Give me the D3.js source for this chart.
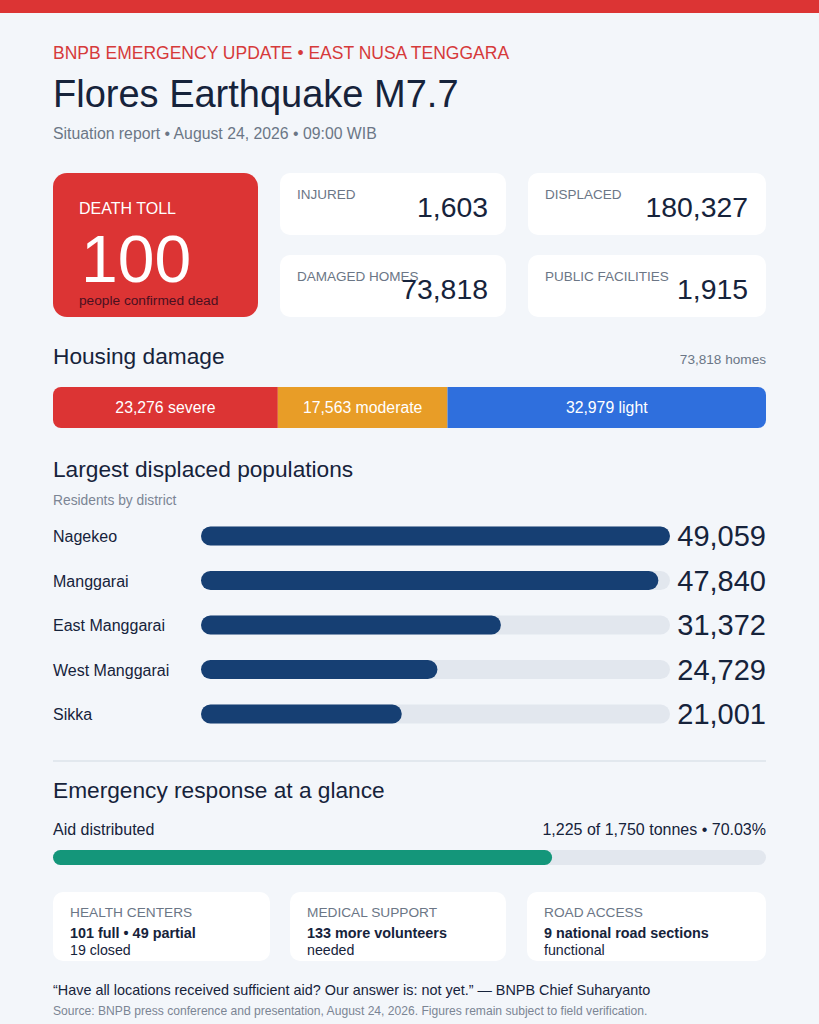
<!DOCTYPE html>
<html lang="en">
<head>
<meta charset="UTF-8">
<title>Flores Earthquake M7.7</title>
<style>
    body { margin: 0; background: #f3f6fa; }
    svg { display: block; font-family: "Liberation Sans", Arial, Helvetica, sans-serif; }
</style>
</head>
<body>
<script src="https://cdn.jsdelivr.net/npm/d3@7"></script>
<script>
    // données
    const deathToll = 100
    const statLabels = ['INJURED', 'DISPLACED', 'DAMAGED HOMES', 'PUBLIC FACILITIES']
    const statValues = [1603, 180327, 73818, 1915]

    const damageLabels = ['severe', 'moderate', 'light']
    const damageValues = [23276, 17563, 32979]
    const damageColors = ['#dc3434', '#e89d27', '#2f6fdd']

    const districts = ['Nagekeo', 'Manggarai', 'East Manggarai', 'West Manggarai', 'Sikka']
    const displaced = [49059, 47840, 31372, 24729, 21001]

    const aidDelivered = 1225
    const aidTotal = 1750
    const aidPercent = '70.03%'   // tel qu'affiché dans le rapport

    const responseLabels = ['HEALTH CENTERS', 'MEDICAL SUPPORT', 'ROAD ACCESS']
    const responseMain = ['101 full • 49 partial', '133 more volunteers', '9 national road sections']
    const responseSub = ['19 closed', 'needed', 'functional']

    const fmt = d3.format(',')
    const W = 819, H = 1024
    const left = 53, right = 766
    const ink = '#16233b', gris = '#6b7686'

    const svg = d3.select('body').append('svg')
        .attr('width', W)
        .attr('height', H)

    svg.append('rect').attr('width', W).attr('height', H).attr('fill', '#f3f6fa')
    svg.append('rect').attr('width', W).attr('height', 13).attr('fill', '#dc3434')

    // en-tête
    svg.append('text').attr('x', left).attr('y', 59)
        .attr('font-size', 17.5).attr('fill', '#d63a3a')
        .text('BNPB EMERGENCY UPDATE • EAST NUSA TENGGARA')
    svg.append('text').attr('x', left).attr('y', 107)
        .attr('font-size', 38).attr('fill', ink)
        .text('Flores Earthquake M7.7')
    svg.append('text').attr('x', left).attr('y', 139)
        .attr('font-size', 15.8).attr('fill', gris)
        .text('Situation report • August 24, 2026 • 09:00 WIB')

    // carte bilan
    svg.append('rect').attr('x', left).attr('y', 173).attr('width', 205).attr('height', 144)
        .attr('rx', 14).attr('fill', '#dc3434')
    svg.append('text').attr('x', 79).attr('y', 214).attr('font-size', 16).attr('fill', '#ffffff').text('DEATH TOLL')
    svg.append('text').attr('x', 81).attr('y', 282).attr('font-size', 66).attr('fill', '#ffffff').text(deathToll)
    svg.append('text').attr('x', 79).attr('y', 305).attr('font-size', 13.7).attr('fill', '#4a1020').text('people confirmed dead')

    // cartes de chiffres
    const cardX = [280, 528], cardW = [226, 238], cardY = [173, 255]
    const stats = svg.append('g').selectAll('g')
        .data(statLabels)
        .enter()
        .append('g')
        .attr('transform', (d, i) => `translate(${cardX[i % 2]},${cardY[Math.floor(i / 2)]})`)
    stats.append('rect')
        .attr('width', (d, i) => cardW[i % 2]).attr('height', 62)
        .attr('rx', 10).attr('fill', '#ffffff')
    stats.append('text').attr('x', 17).attr('y', 26)
        .attr('font-size', 13.5).attr('fill', gris)
        .text(d => d)
    stats.append('text')
        .attr('x', (d, i) => cardW[i % 2] - 18).attr('y', 44)
        .attr('text-anchor', 'end').attr('font-size', 28.4).attr('fill', ink)
        .text((d, i) => fmt(statValues[i]))

    // dommages logements
    const totalHomes = d3.sum(damageValues)
    svg.append('text').attr('x', left).attr('y', 364).attr('font-size', 22.7).attr('fill', ink).text('Housing damage')
    svg.append('text').attr('x', right).attr('y', 364).attr('text-anchor', 'end')
        .attr('font-size', 13.6).attr('fill', gris).text(fmt(totalHomes) + ' homes')

    const echelleDommages = d3.scaleLinear().domain([0, totalHomes]).range([left, right])
    const cumul = damageValues.map((d, i) => d3.sum(damageValues.slice(0, i)))
    svg.append('clipPath').attr('id', 'clipStack')
        .append('rect').attr('x', left).attr('y', 387).attr('width', right - left).attr('height', 41).attr('rx', 8)
    const stack = svg.append('g').attr('clip-path', 'url(#clipStack)')
    stack.selectAll('rect')
        .data(damageValues)
        .enter()
        .append('rect')
        .attr('x', (d, i) => echelleDommages(cumul[i]))
        .attr('y', 387)
        .attr('width', (d, i) => echelleDommages(cumul[i] + d) - echelleDommages(cumul[i]))
        .attr('height', 41)
        .attr('fill', (d, i) => damageColors[i])
    svg.append('g').selectAll('text')
        .data(damageValues)
        .enter()
        .append('text')
        .attr('x', (d, i) => (echelleDommages(cumul[i]) + echelleDommages(cumul[i] + d)) / 2)
        .attr('y', 413)
        .attr('text-anchor', 'middle').attr('font-size', 15.8).attr('fill', '#ffffff')
        .text((d, i) => fmt(d) + ' ' + damageLabels[i])

    // populations déplacées
    svg.append('text').attr('x', left).attr('y', 477).attr('font-size', 22.7).attr('fill', ink).text('Largest displaced populations')
    svg.append('text').attr('x', left).attr('y', 505).attr('font-size', 13.8).attr('fill', '#7b8594').text('Residents by district')

    const echelleY = d3.scalePoint().domain(districts).range([536, 714])
    const echelleX = d3.scaleLinear().domain([0, d3.max(displaced)]).range([201, 670])
    const barH = 19

    const rows = svg.append('g').selectAll('g')
        .data(districts)
        .enter()
        .append('g')
        .attr('transform', d => `translate(0,${echelleY(d)})`)
    rows.append('text').attr('x', left).attr('y', 6)
        .attr('font-size', 16).attr('fill', ink).text(d => d)
    rows.append('rect')
        .attr('x', echelleX(0)).attr('y', -barH / 2)
        .attr('width', echelleX.range()[1] - echelleX(0)).attr('height', barH)
        .attr('rx', barH / 2).attr('fill', '#e2e7ee')
    rows.append('rect')
        .attr('x', echelleX(0)).attr('y', -barH / 2)
        .attr('width', (d, i) => echelleX(displaced[i]) - echelleX(0)).attr('height', barH)
        .attr('rx', barH / 2).attr('fill', '#163f73')
    rows.append('text').attr('x', right).attr('y', 10)
        .attr('text-anchor', 'end').attr('font-size', 29).attr('fill', ink)
        .text((d, i) => fmt(displaced[i]))

    // séparateur
    svg.append('line').attr('x1', left).attr('x2', right).attr('y1', 761).attr('y2', 761)
        .attr('stroke', '#dde3ea').attr('stroke-width', 1.5)

    // réponse d'urgence
    svg.append('text').attr('x', left).attr('y', 798).attr('font-size', 22.7).attr('fill', ink).text('Emergency response at a glance')
    svg.append('text').attr('x', left).attr('y', 835).attr('font-size', 16).attr('fill', ink).text('Aid distributed')
    svg.append('text').attr('x', right).attr('y', 835).attr('text-anchor', 'end')
        .attr('font-size', 16).attr('fill', ink)
        .text(`${fmt(aidDelivered)} of ${fmt(aidTotal)} tonnes • ${aidPercent}`)

    const echelleAide = d3.scaleLinear().domain([0, aidTotal]).range([left, right])
    svg.append('rect').attr('x', left).attr('y', 850).attr('width', right - left).attr('height', 15)
        .attr('rx', 7.5).attr('fill', '#e2e7ee')
    svg.append('rect').attr('x', left).attr('y', 850)
        .attr('width', echelleAide(aidDelivered) - left).attr('height', 15)
        .attr('rx', 7.5).attr('fill', '#14967a')

    // petites cartes
    const smallX = [53, 290, 527], smallW = [217, 216, 239]
    const small = svg.append('g').selectAll('g')
        .data(responseLabels)
        .enter()
        .append('g')
        .attr('transform', (d, i) => `translate(${smallX[i]},892)`)
    small.append('rect').attr('width', (d, i) => smallW[i]).attr('height', 69)
        .attr('rx', 10).attr('fill', '#ffffff')
    small.append('text').attr('x', 17).attr('y', 25)
        .attr('font-size', 13.7).attr('fill', gris).text(d => d)
    small.append('text').attr('x', 17).attr('y', 46)
        .attr('font-size', 14.4).attr('font-weight', 'bold').attr('fill', ink)
        .text((d, i) => responseMain[i])
    small.append('text').attr('x', 17).attr('y', 63)
        .attr('font-size', 14.2).attr('fill', ink)
        .text((d, i) => responseSub[i])

    // citation et source
    svg.append('text').attr('x', left).attr('y', 995).attr('font-size', 14.4).attr('fill', ink)
        .text('“Have all locations received sufficient aid? Our answer is: not yet.” — BNPB Chief Suharyanto')
    svg.append('text').attr('x', left).attr('y', 1015).attr('font-size', 12.1).attr('fill', '#7b8594')
        .text('Source: BNPB press conference and presentation, August 24, 2026. Figures remain subject to field verification.')
</script>
</body>
</html>
